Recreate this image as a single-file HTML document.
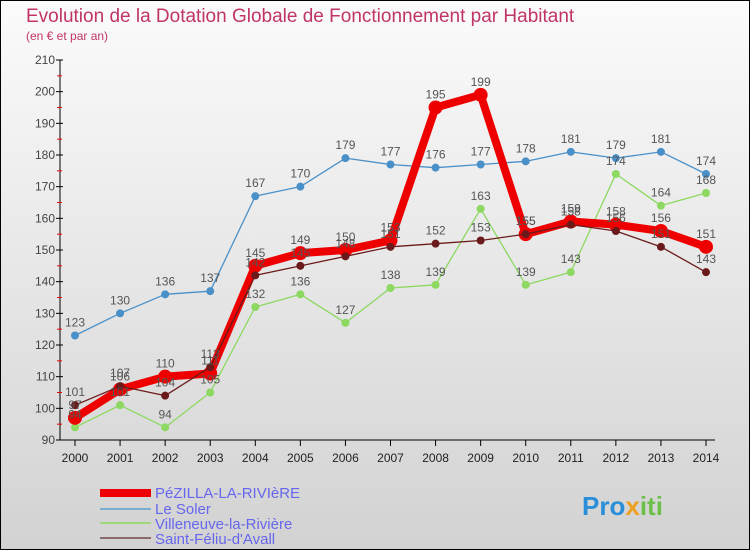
<!DOCTYPE html>
<html><head><meta charset="utf-8"><style>
body{margin:0;width:750px;height:550px;overflow:hidden;font-family:"Liberation Sans",sans-serif}
</style></head><body>
<svg width="750" height="550" xmlns="http://www.w3.org/2000/svg">
<defs><linearGradient id="bg" x1="0" y1="0" x2="0" y2="1"><stop offset="0" stop-color="#fbfbfb"/><stop offset="1" stop-color="#d2d2d2"/></linearGradient></defs>
<rect x="0.5" y="0.5" width="749" height="549" fill="url(#bg)" stroke="#000"/>
<text x="26" y="22" font-size="19" fill="#c03468">Evolution de la Dotation Globale de Fonctionnement par Habitant</text>
<text x="26" y="40" font-size="12" fill="#c03468">(en € et par an)</text>
<g id="axes"></g><g id="series"></g><g id="labels"></g>
<g>
<rect x="100" y="489" width="51" height="8" fill="#e00"/>
<text x="155" y="498" font-size="15" fill="#6666ee">PéZILLA-LA-RIVIèRE</text>
<rect x="100" y="508" width="51" height="2" fill="#7aaed0"/>
<text x="155" y="514" font-size="15" fill="#6666ee">Le Soler</text>
<rect x="100" y="522" width="51" height="2" fill="#9ed87a"/>
<text x="155" y="529" font-size="15" fill="#6666ee">Villeneuve-la-Rivière</text>
<rect x="100" y="537" width="51" height="2" fill="#8a6a6a"/>
<text x="155" y="544" font-size="15" fill="#6666ee">Saint-Féliu-d'Avall</text>
</g>
<text x="582" y="515" font-size="26" font-weight="bold" fill="#2a8fd8">Pro<tspan fill="#f0a020">x</tspan><tspan fill="#6cc04a">iti</tspan></text>
</svg>
<script>
const years=[2000,2001,2002,2003,2004,2005,2006,2007,2008,2009,2010,2011,2012,2013,2014];
const pezilla=[97,106,110,111,145,149,150,153,195,199,155,159,158,156,151];
const soler=[123,130,136,137,167,170,179,177,176,177,178,181,179,181,174];
const villeneuve=[94,101,94,105,132,136,127,138,139,163,139,143,174,164,168];
const feliu=[101,107,104,113,142,145,148,151,152,153,155,158,156,151,143];
const yTicks=[90,100,110,120,130,140,150,160,170,180,190,200,210];
const NS="http://www.w3.org/2000/svg";
const X=i=>75+i*(706-75)/14, Y=v=>440-(v-90)*(380/120);
function mk(tag,at,parent){const e=document.createElementNS(NS,tag);for(const k in at)e.setAttribute(k,at[k]);document.getElementById(parent).appendChild(e);return e;}
let e=mk('line',{x1:60,y1:60,x2:60,y2:440,stroke:'#000'},'axes');


e=mk('line',{x1:60,y1:440,x2:715,y2:440,stroke:'#000'},'axes');


yTicks.forEach((t,k)=>{
 e=mk('line',{x1:56,y1:Y(t),x2:63,y2:Y(t),stroke:'#000'},'axes');
 
 
 if(k<yTicks.length-1){e=mk('line',{x1:57,y1:Y(t+5),x2:62,y2:Y(t+5),stroke:'#e00'},'axes');
 
 }
 e=mk('text',{x:55,y:Y(t)+4,'font-size':12,fill:'#444','text-anchor':'end'},'axes');e.textContent=t;
 
 
});
years.forEach((yr,i)=>{
 e=mk('line',{x1:X(i),y1:440,x2:X(i),y2:446,stroke:'#000'},'axes');
 
 
 e=mk('text',{x:X(i),y:462,'font-size':12,fill:'#222','text-anchor':'middle'},'axes');e.textContent=yr;
 
 
});
function series(vals,color,w,r,name){
 e=mk('polyline',{points:vals.map((v,i)=>X(i)+','+Y(v)).join(' '),fill:'none',stroke:color,'stroke-width':w,'stroke-linejoin':'round'},'series');
 
 
 vals.forEach((v,i)=>{
  e=mk('circle',{cx:X(i),cy:Y(v),r:r,fill:color},'series');
  
  
  e=mk('text',{x:X(i),y:Y(v)-9,'font-size':12,fill:'#555','text-anchor':'middle'},'labels');e.textContent=v;
  
  
 });
}
series(soler,'#4a90c8',1.3,4,'soler');
series(villeneuve,'#8cd860',1.3,4,'villeneuve');
series(pezilla,'#ee0000',8,7,'pezilla');
series(feliu,'#6a1a1a',1.3,4,'saint-feliu');
</script>
</body></html>
